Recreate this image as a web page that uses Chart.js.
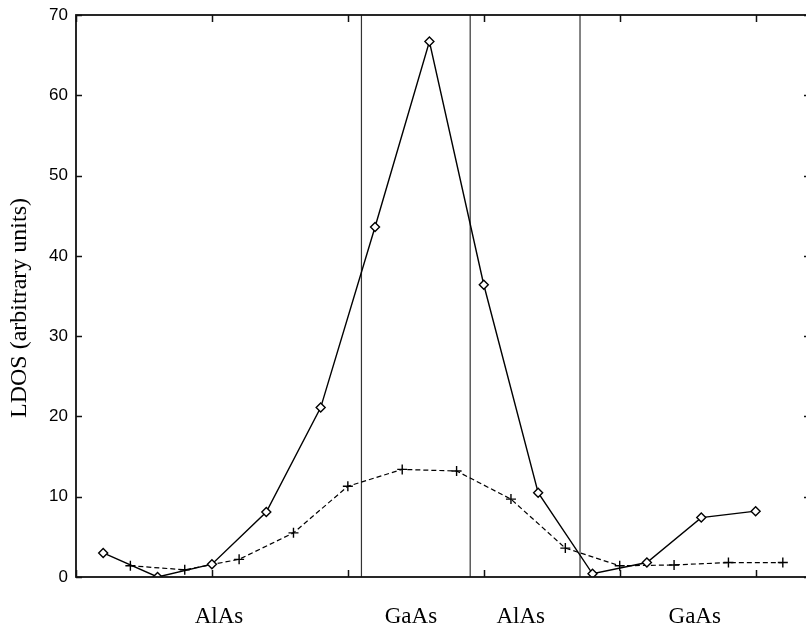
<!DOCTYPE html>
<html>
<head>
<meta charset="utf-8">
<title>LDOS</title>
<script src="https://cdn.jsdelivr.net/npm/chart.js@4.4.0/dist/chart.umd.min.js"></script>
<style>
  html, body { margin: 0; padding: 0; background: #fff; overflow: hidden; }
  #wrap { width: 806px; height: 632px; overflow: hidden; }
  canvas { display: block; }
</style>
</head>
<body>
<div id="wrap"><canvas id="ldosChart" width="814" height="632"></canvas></div>
<script>
// layer positions (in monolayers) and LDOS values
const diamondPos = [0.5, 1.5, 2.5, 3.5, 4.5, 5.5, 6.5, 7.5, 8.5, 9.5, 10.5, 11.5, 12.5];
const diamondLdos = [3.0, 0.0, 1.6, 8.1, 21.1, 43.6, 66.7, 36.4, 10.5, 0.4, 1.8, 7.4, 8.2];
const crossPos = [1, 2, 3, 4, 5, 6, 7, 8, 9, 10, 11, 12, 13];
const crossLdos = [1.4, 0.9, 2.2, 5.5, 11.3, 13.4, 13.2, 9.7, 3.6, 1.4, 1.5, 1.8, 1.8];

// interfaces between the layers and their names
const interfaces = [5.25, 7.25, 9.27];
const regionNames = ["AlAs", "GaAs", "AlAs", "GaAs"];
const regionCenters = [2.63, 6.16, 8.18, 11.38];

const xTicks = [0, 2.5, 5, 7.5, 10, 12.5];
const yTicks = [0, 10, 20, 30, 40, 50, 60, 70];

const toPoints = (xs, ys) => xs.map((x, i) => ({ x: x, y: ys[i] }));

// plot frame with inward tick marks like the original
const framePlugin = {
  id: "frame",
  afterDatasetsDraw(chart) {
    const { ctx, chartArea: a, scales } = chart;
    ctx.save();
    ctx.strokeStyle = "#111";
    ctx.lineWidth = 1.8;
    ctx.strokeRect(a.left, a.top, a.right - a.left, a.bottom - a.top);
    ctx.lineWidth = 1.5;
    ctx.beginPath();
    xTicks.forEach((v) => {
      const x = Math.round(scales.x.getPixelForValue(v)) + 0.5;
      ctx.moveTo(x, a.bottom);
      ctx.lineTo(x, a.bottom - 7);
      ctx.moveTo(x, a.top);
      ctx.lineTo(x, a.top + 7);
    });
    yTicks.forEach((v) => {
      const y = Math.round(scales.y.getPixelForValue(v)) + 0.5;
      ctx.moveTo(a.left, y);
      ctx.lineTo(a.left + 6, y);
      ctx.moveTo(a.right, y);
      ctx.lineTo(a.right - 6, y);
    });
    ctx.stroke();
    ctx.restore();
  },
};

const interfaceSets = interfaces.map((v) => ({
  data: [{ x: v, y: 0 }, { x: v, y: 70 }],
  borderColor: "#333",
  borderWidth: 1.2,
  pointRadius: 0,
  order: 3,
}));

const ldosChart = document.querySelector("#ldosChart");
const chart = new Chart(ldosChart, {
  type: "line",
  data: {
    datasets: [
      ...interfaceSets,
      {
        label: "diamond",
        data: toPoints(diamondPos, diamondLdos),
        borderColor: "#000",
        borderWidth: 1.4,
        pointStyle: "rectRot",
        pointRadius: 4.5,
        pointBackgroundColor: "#fff",
        pointBorderColor: "#000",
        pointBorderWidth: 1.4,
        tension: 0,
        order: 1,
      },
      {
        label: "cross",
        data: toPoints(crossPos, crossLdos),
        borderColor: "#000",
        borderWidth: 1.2,
        borderDash: [5, 3],
        pointStyle: "cross",
        pointRadius: 5,
        pointBorderColor: "#000",
        pointBorderWidth: 1.4,
        tension: 0,
        order: 2,
      },
    ],
  },
  options: {
    responsive: false,
    animation: false,
    devicePixelRatio: 1,
    layout: { autoPadding: false, padding: { left: 0, right: 4, top: 15, bottom: 0 } },
    plugins: {
      legend: { display: false },
      tooltip: { enabled: false },
    },
    scales: {
      x: {
        type: "linear",
        min: 0,
        max: 13.5,
        grid: { display: false, drawTicks: false },
        border: { display: false },
        afterBuildTicks(axis) {
          axis.ticks = regionCenters.map((v) => ({ value: v }));
        },
        afterFit(axis) {
          axis.height = 55;
          axis.paddingLeft = 0;
          axis.paddingRight = 0;
        },
        ticks: {
          autoSkip: false,
          maxRotation: 0,
          padding: 26,
          color: "#000",
          font: { family: "Liberation Serif", size: 23 },
          callback: (v, i) => regionNames[i],
        },
      },
      y: {
        min: 0,
        max: 70,
        grid: { display: false, drawTicks: false },
        border: { display: false },
        afterBuildTicks(axis) {
          axis.ticks = yTicks.map((v) => ({ value: v }));
        },
        afterFit(axis) {
          axis.width = 76;
          axis.paddingTop = 0;
          axis.paddingBottom = 0;
        },
        ticks: {
          padding: 8,
          color: "#000",
          font: { family: "Liberation Sans", size: 17 },
        },
        title: {
          display: true,
          // trailing spaces nudge the rotated title down a little, as in the original
          text: "LDOS (arbitrary units)    ",
          color: "#000",
          padding: { top: 5, bottom: 0 },
          font: { family: "Liberation Serif", size: 24 },
        },
      },
    },
  },
  plugins: [framePlugin],
});
</script>
</body>
</html>
